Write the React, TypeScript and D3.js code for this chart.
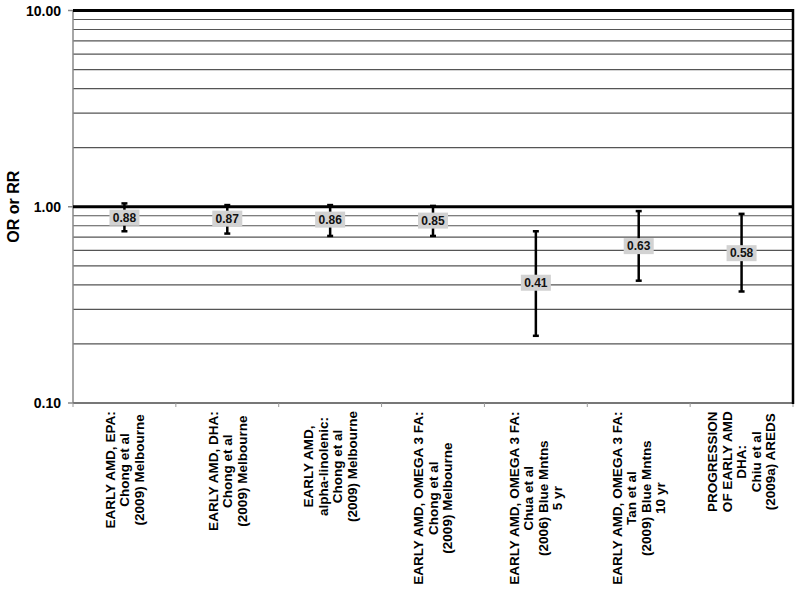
import React, { useEffect, useRef } from "react";
import * as d3 from "d3";

// study labels, one line per entry
const categories: string[][] = [
  ["EARLY AMD, EPA:", "Chong et al", "(2009) Melbourne"],
  ["EARLY AMD, DHA:", "Chong et al", "(2009) Melbourne"],
  ["EARLY AMD,", "alpha-linolenic:", "Chong et al", "(2009) Melbourne"],
  ["EARLY AMD, OMEGA 3 FA:", "Chong et al", "(2009) Melbourne"],
  ["EARLY AMD, OMEGA 3 FA:", "Chua et al", "(2006) Blue Mntns", "5 yr"],
  ["EARLY AMD, OMEGA 3 FA:", "Tan et al", "(2009) Blue Mntns", "10 yr"],
  ["PROGRESSION", "OF EARLY AMD", "DHA:", "Chiu et al", "(2009a) AREDS"],
];
const estimates = [0.88, 0.87, 0.86, 0.85, 0.41, 0.63, 0.58];
const lower = [0.75, 0.73, 0.71, 0.71, 0.22, 0.42, 0.37];
const upper = [1.04, 1.02, 1.02, 1.01, 0.75, 0.95, 0.92];
const yTicks = [0.1, 1, 10];
const gridVals = [0.2, 0.3, 0.4, 0.5, 0.6, 0.7, 0.8, 0.9, 2, 3, 4, 5, 6, 7, 8, 9];

const W = 800;
const H = 589;
const m = { left: 73, right: 7, top: 10.5, bottom: 186 };
const FONT = "'Liberation Sans', Arial, sans-serif";

export default function App() {
  const svgRef = useRef<SVGSVGElement>(null);

  useEffect(() => {
    const svg = d3.select(svgRef.current);
    svg.selectAll("*").remove();

    const x = d3
      .scaleBand<number>()
      .domain(d3.range(categories.length))
      .range([m.left, W - m.right]);
    const y = d3
      .scaleLog()
      .domain([0.1, 10])
      .range([H - m.bottom, m.top]);
    const x0 = m.left;
    const x1 = W - m.right;

    // minor gridlines
    svg
      .append("g")
      .selectAll("line")
      .data(gridVals)
      .enter()
      .append("line")
      .attr("x1", x0)
      .attr("x2", x1)
      .attr("y1", (d) => y(d))
      .attr("y2", (d) => y(d))
      .attr("stroke", "#555")
      .attr("stroke-width", 1.2);

    // left axis + ticks
    svg
      .append("line")
      .attr("x1", x0)
      .attr("x2", x0)
      .attr("y1", y(10))
      .attr("y2", y(0.1))
      .attr("stroke", "#888")
      .attr("stroke-width", 1.5);
    svg
      .append("g")
      .selectAll("line")
      .data(yTicks)
      .enter()
      .append("line")
      .attr("x1", x0 - 5)
      .attr("x2", x0)
      .attr("y1", (d) => y(d))
      .attr("y2", (d) => y(d))
      .attr("stroke", "#888")
      .attr("stroke-width", 1.5);
    svg
      .append("g")
      .selectAll("text")
      .data(yTicks)
      .enter()
      .append("text")
      .attr("x", 61)
      .attr("y", (d) => y(d))
      .attr("dy", "0.36em")
      .attr("text-anchor", "end")
      .attr("font-family", FONT)
      .attr("font-weight", "bold")
      .attr("font-size", 14)
      .text((d) => d3.format(".2f")(d));

    // y title
    svg
      .append("text")
      .attr("transform", `translate(19,${y(1)}) rotate(-90)`)
      .attr("text-anchor", "middle")
      .attr("font-family", FONT)
      .attr("font-weight", "bold")
      .attr("font-size", 16)
      .text("OR or RR");

    // bottom axis
    svg
      .append("line")
      .attr("x1", x0)
      .attr("x2", x1)
      .attr("y1", y(0.1))
      .attr("y2", y(0.1))
      .attr("stroke", "#777")
      .attr("stroke-width", 2);
    svg
      .append("g")
      .selectAll("line")
      .data(d3.range(categories.length + 1))
      .enter()
      .append("line")
      .attr("x1", (i) => x0 + i * x.step())
      .attr("x2", (i) => x0 + i * x.step())
      .attr("y1", y(0.1))
      .attr("y2", y(0.1) + 4)
      .attr("stroke", "#999")
      .attr("stroke-width", 1);

    // heavy reference lines at 1 and 10
    svg
      .append("g")
      .selectAll("line")
      .data([1, 10])
      .enter()
      .append("line")
      .attr("x1", x0)
      .attr("x2", x1)
      .attr("y1", (d) => y(d))
      .attr("y2", (d) => y(d))
      .attr("stroke", "#000")
      .attr("stroke-width", 3);

    // right border
    svg
      .append("line")
      .attr("x1", x1)
      .attr("x2", x1)
      .attr("y1", y(10) - 1.5)
      .attr("y2", y(0.1) + 1)
      .attr("stroke", "#000")
      .attr("stroke-width", 2.5);

    const cx = (i: number) => (x(i) as number) + x.bandwidth() / 2;

    // error bars
    const bars = svg
      .append("g")
      .selectAll("g")
      .data(estimates)
      .enter()
      .append("g");
    bars
      .append("line")
      .attr("x1", (_, i) => cx(i))
      .attr("x2", (_, i) => cx(i))
      .attr("y1", (_, i) => y(upper[i]))
      .attr("y2", (_, i) => y(lower[i]))
      .attr("stroke", "#000")
      .attr("stroke-width", 2.5);
    [upper, lower].forEach((arr) => {
      bars
        .append("line")
        .attr("x1", (_, i) => cx(i) - 3)
        .attr("x2", (_, i) => cx(i) + 3)
        .attr("y1", (_, i) => y(arr[i]))
        .attr("y2", (_, i) => y(arr[i]))
        .attr("stroke", "#000")
        .attr("stroke-width", 2.5);
    });
    bars
      .append("rect")
      .attr("x", (_, i) => cx(i) - 15)
      .attr("y", (d) => y(d) - 8)
      .attr("width", 30)
      .attr("height", 16)
      .attr("fill", "#d2d2d2");
    bars
      .append("text")
      .attr("x", (_, i) => cx(i))
      .attr("y", (d) => y(d))
      .attr("dy", "0.36em")
      .attr("text-anchor", "middle")
      .attr("font-family", FONT)
      .attr("font-weight", "bold")
      .attr("font-size", 12)
      .attr("fill", "#111")
      .text((d) => d3.format(".2f")(d));

    // category labels, rotated, lines centred on the longest one
    const fs = 13.5;
    const ctx = document.createElement("canvas").getContext("2d")!;
    ctx.font = `bold ${fs}px ${FONT}`;
    const lh = 14.5;
    categories.forEach((lines, i) => {
      const wMax = d3.max(lines, (l) => ctx.measureText(l).width) || 0;
      const g = svg
        .append("g")
        .attr("transform", `translate(${cx(i)},${y(0.1) + 8}) rotate(-90)`);
      g.selectAll("text")
        .data(lines)
        .enter()
        .append("text")
        .attr("x", -wMax / 2)
        .attr("y", (_, j) => (j - (lines.length - 1) / 2) * lh)
        .attr("dy", "0.36em")
        .attr("text-anchor", "middle")
        .attr("font-family", FONT)
        .attr("font-weight", "bold")
        .attr("font-size", fs)
        .text((l) => l);
    });
  }, []);

  return (
    <svg
      ref={svgRef}
      width={W}
      height={H}
      style={{ position: "absolute", left: 0, top: 0, background: "#fff" }}
    />
  );
}
